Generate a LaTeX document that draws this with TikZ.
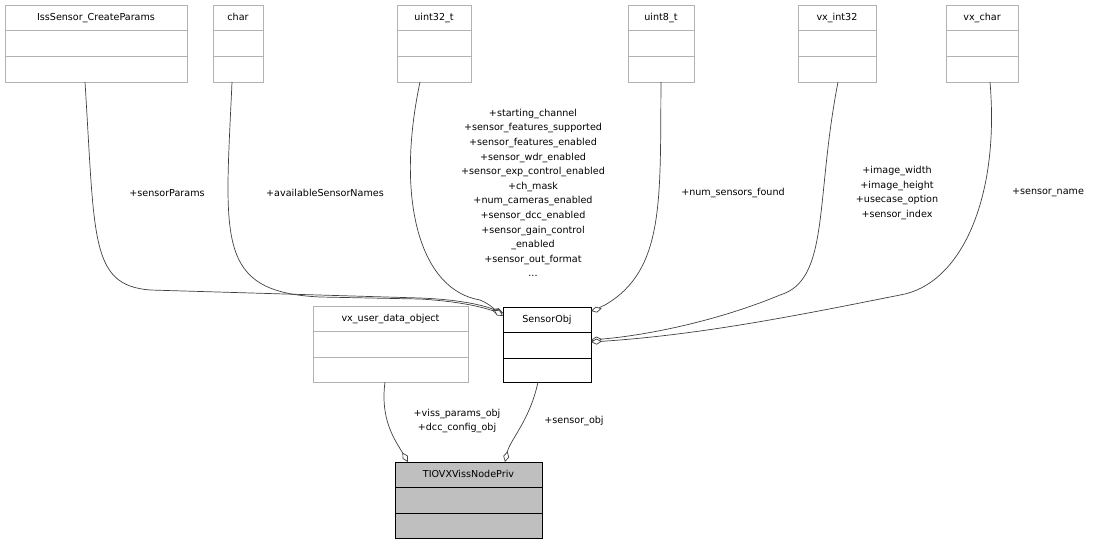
\documentclass[tikz,border=0pt]{standalone}
\usepackage{fontspec}
\setmainfont{DejaVu Sans}
\usetikzlibrary{arrows.meta}
\begin{document}
\begin{tikzpicture}[x=1pt,y=-1pt,
  lbl/.style={font=\fontsize{9.6}{14.6}\selectfont,align=center,inner sep=0},
  edge/.style={draw=black!75,line width=0.7pt,-{Diamond[open,length=11pt,width=6pt,fill=white]}},
  ttl/.style={font=\fontsize{9.6}{12}\selectfont,anchor=north}]
\useasboundingbox (0,0) rectangle (1103,544);
\newcommand{\cls}[8]{% id, label, x1,y1,x2,y2, draw, fill
  \draw[#7,fill=#8,line width=0.7pt] (#3,#4) rectangle (#5,#6);
  \draw[#7,line width=0.7pt] (#3,{#4+25.5}) -- (#5,{#4+25.5});
  \draw[#7,line width=0.7pt] (#3,{#4+51}) -- (#5,{#4+51});
  \node[ttl] (#1) at ({(#3+#5)/2},{#4+4}) {\strut#2};}
\cls{iss}{IssSensor\_CreateParams}{5}{5}{187}{82}{black!30}{white}
\coordinate (a) at (85,82);
\cls{chr}{char}{213}{5}{263}{82}{black!30}{white}
\coordinate (b) at (232,82);
\cls{u32}{uint32\_t}{397}{5}{471}{82}{black!30}{white}
\coordinate (c) at (420,82);
\cls{u8}{uint8\_t}{628}{5}{694}{82}{black!30}{white}
\coordinate (d) at (661,82);
\cls{vi32}{vx\_int32}{798}{5}{876}{82}{black!30}{white}
\coordinate (e) at (838,82);
\cls{vchar}{vx\_char}{946}{5}{1018}{82}{black!30}{white}
\coordinate (f) at (990,82);
\cls{udo}{vx\_user\_data\_object}{313}{306}{468}{382}{black!30}{white}
\coordinate (g) at (385,382);
\cls{so}{SensorObj}{503}{307}{591}{382}{black}{white}
\coordinate (h) at (538,382);
\cls{viss}{TIOVXVissNodePriv}{395}{462}{542}{538}{black}{black!25}
\coordinate (s1) at (503,313);
\coordinate (s2) at (503,316);
\coordinate (s3) at (591,311);
\coordinate (s4) at (591,340);
\coordinate (s5) at (591,342);
\coordinate (t1) at (408,462);
\coordinate (t2) at (505,462);
\draw[edge] (a) .. controls (95,240) and (90,285) .. (150,290) -- (420,298) .. controls (470,300) and (490,308) .. (s1);
\draw[edge] (b) .. controls (225,240) and (215,292) .. (320,297) -- (420,299) .. controls (470,302) and (490,310) .. (s1);
\draw[edge] (c) .. controls (395,200) and (420,290) .. (480,300) .. controls (492,305) and (497,312) .. (s2);
\draw[edge] (d) .. controls (660,200) and (665,270) .. (605,305) .. controls (598,308) and (595,310) .. (s3);
\draw[edge] (e) .. controls (815,200) and (830,280) .. (780,295) .. controls (720,320) and (650,335) .. (s4);
\draw[edge] (f) .. controls (1000,200) and (960,285) .. (900,295) .. controls (800,315) and (700,335) .. (s5);
\draw[edge] (g) .. controls (380,420) and (395,440) .. (t1);
\draw[edge] (h) .. controls (530,420) and (510,440) .. (t2);
\node[lbl] (l1) at (167,193) {+sensorParams};
\node[lbl] (l2) at (325,193) {+availableSensorNames};
\node[lbl] (l3) at (533,193) {+starting\_channel\\+sensor\_features\_supported\\+sensor\_features\_enabled\\+sensor\_wdr\_enabled\\+sensor\_exp\_control\_enabled\\+ch\_mask\\+num\_cameras\_enabled\\+sensor\_dcc\_enabled\\+sensor\_gain\_control\\\_enabled\\+sensor\_out\_format\\...};
\node[lbl] (l4) at (733,193) {+num\_sensors\_found};
\node[lbl] (l5) at (897,193) {+image\_width\\+image\_height\\+usecase\_option\\+sensor\_index};
\node[lbl] (l6) at (1048,193) {+sensor\_name};
\node[lbl] (l7) at (457,421) {+viss\_params\_obj\\+dcc\_config\_obj};
\node[lbl] (l8) at (574,421) {+sensor\_obj};
\end{tikzpicture}
\end{document}
